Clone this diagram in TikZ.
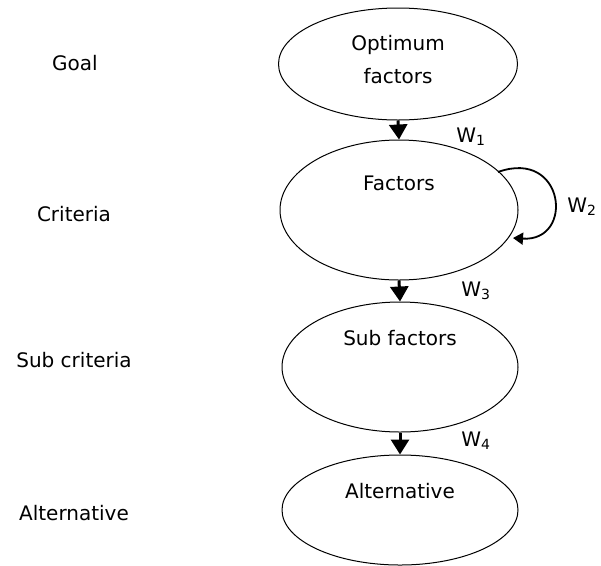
\documentclass[tikz,border=0pt]{standalone}
\usepackage{fontspec}
\setmainfont{DejaVu Sans}
\usetikzlibrary{shapes.geometric,arrows.meta}
\tikzset{
  level/.style={ellipse,draw=black,line width=1pt,inner sep=0pt},
  lbl/.style={font=\fontsize{20}{24}\selectfont,inner sep=0pt},
  wlbl/.style={font=\fontsize{20}{24}\selectfont,inner sep=0pt},
  flow/.style={line width=3pt,-{Triangle[width=18pt,length=15pt]}},
  loop/.style={line width=1.8pt,-{Triangle[width=12pt,length=10pt]}}
}
\begin{document}
\begin{tikzpicture}[x=1pt,y=-1pt]
\clip (0,0) rectangle (601,565);
\fill[white] (0,0) rectangle (601,565);

% hierarchy levels
\node[level,minimum width=239pt,minimum height=112pt] (e1) at (398,64) {};
\node[level,minimum width=238pt,minimum height=140pt] (e2) at (399,210) {};
\node[level,minimum width=236pt,minimum height=130pt] (e3) at (400,367) {};
\node[level,minimum width=236pt,minimum height=110pt] (e4) at (400,510) {};

% texts inside the ellipses
\node[lbl] (t1a) at (398,45) {Optimum};
\node[lbl] (t1b) at (398,76) {factors};
\node[lbl] (t2) at (399,183) {Factors};
\node[lbl] (t3) at (400,338) {Sub factors};
\node[lbl] (t4) at (400,491) {Alternative};

% level names on the left
\node[lbl] (g) at (75,63) {Goal};
\node[lbl] (c) at (74,214) {Criteria};
\node[lbl] (s) at (74,360) {Sub criteria};
\node[lbl] (a) at (74,513) {Alternative};

% links between levels
\draw[flow] (e1.south) -- (e2.north);
\draw[flow] (e2.south) -- (e3.north);
\draw[flow] (e3.south) -- (e4.north);

% inner dependence of the criteria
\coordinate (ls) at (498,172);
\coordinate (le) at (513,238);
\draw[loop] (ls) .. controls (565,148) and (575,242) .. (le);

% weights
\node[wlbl] (w1) at (471,137) {W\textsubscript{1}};
\node[wlbl] (w2) at (582,207) {W\textsubscript{2}};
\node[wlbl] (w3) at (476,291) {W\textsubscript{3}};
\node[wlbl] (w4) at (476,441) {W\textsubscript{4}};
\end{tikzpicture}
\end{document}
